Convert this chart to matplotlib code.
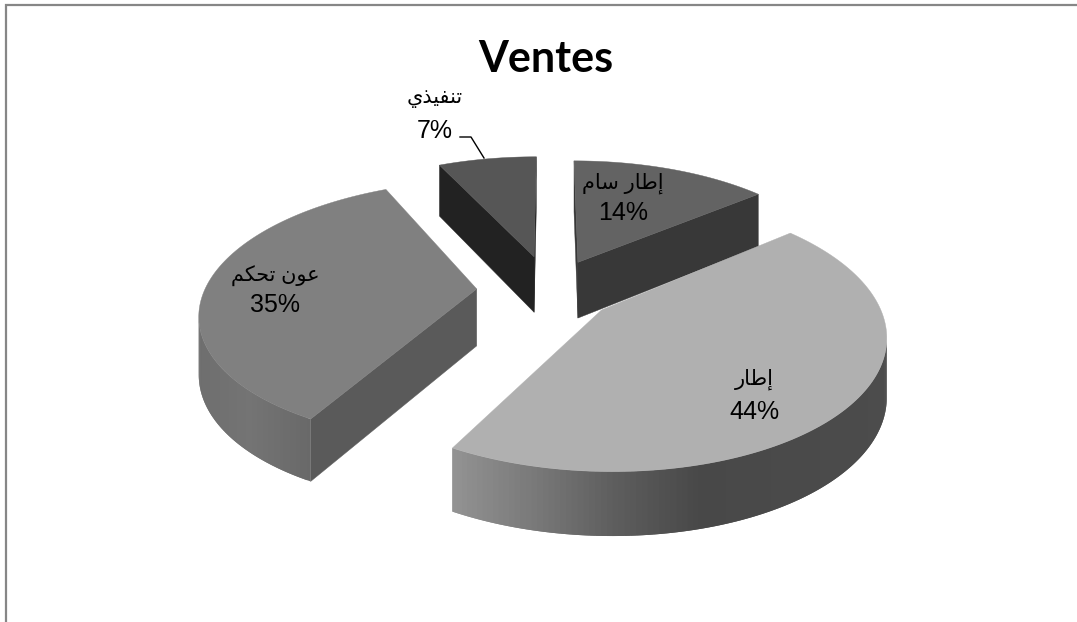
import numpy as np
import matplotlib
matplotlib.use("Agg")
import matplotlib.pyplot as plt
from matplotlib.colors import to_hex

# Chart data
title = "Ventes"
categories = ["إطار سام", "إطار", "عون تحكم", "تنفيذي"]
shares = [14, 44, 35, 7]
explode = [0.25, 0.24, 0.27, 0.28]

# Colours per slice: top face, radial wall, outer wall gradient stops (x pixel, grey level)
top_grey = [0x63, 0xB0, 0x80, 0x56]
radial_grey = [0x38, 0x5C, 0x5A, 0x22]
outer_stops = [
    ([570, 760], [0x38, 0x38]),
    ([446, 540, 620, 700, 890], [0x95, 0x77, 0x5C, 0x48, 0x4C]),
    ([197, 250, 315], [0x6E, 0x74, 0x68]),
    ([430, 540], [0x22, 0x22]),
]
label_pos = [(623, 183, 213), (754, 379, 412), (275, 276, 305), (435, 99, 131)]

# Projection of the tilted pie onto the page, in pixels
CX, CY = 550.0, 290.0
SCALE_X, SCALE_Y = 272.0, 127.0
PERSP = 0.168
DEPTH, DEPTH_PERSP = 57.0, 0.10

# Contextual forms for the Arabic letters used here: isolated, final, initial, medial
FORMS = {
    "إ": "\uFE87\uFE88", "ا": "\uFE8D\uFE8E", "ر": "\uFEAD\uFEAE", "و": "\uFEED\uFEEE", "ذ": "\uFEAB\uFEAC",
    "ط": "\uFEC1\uFEC2\uFEC3\uFEC4", "س": "\uFEB1\uFEB2\uFEB3\uFEB4", "م": "\uFEE1\uFEE2\uFEE3\uFEE4",
    "ع": "\uFEC9\uFECA\uFECB\uFECC", "ن": "\uFEE5\uFEE6\uFEE7\uFEE8", "ت": "\uFE95\uFE96\uFE97\uFE98",
    "ح": "\uFEA1\uFEA2\uFEA3\uFEA4", "ك": "\uFED9\uFEDA\uFEDB\uFEDC", "ف": "\uFED1\uFED2\uFED3\uFED4",
    "ي": "\uFEF1\uFEF2\uFEF3\uFEF4",
}


def shape_arabic(text):
    """Join Arabic letters and lay them out left to right for the text engine."""
    out = []
    for i, ch in enumerate(text):
        if ch not in FORMS:
            out.append(ch)
            continue
        prev = text[i - 1] if i else " "
        nxt = text[i + 1] if i + 1 < len(text) else " "
        joins_prev = prev in FORMS and len(FORMS[prev]) == 4
        joins_next = nxt in FORMS and len(FORMS[ch]) == 4
        form = (1 if joins_prev else 0) if not joins_next else (3 if joins_prev else 2)
        out.append(FORMS[ch][form])
    return "".join(reversed(out))


def project(u, w):
    k = 1.0 + PERSP * w
    return CX + SCALE_X * u / k, CY - SCALE_Y * w / k


def drop(w):
    return DEPTH / (1.0 + DEPTH_PERSP * w)


def grey(level):
    v = float(level) / 255.0
    return to_hex((v, v, v))


def faces_viewer(a, b, inner, dy):
    """True when the wall hanging below edge a-b faces the viewer."""
    ex, ey = b[0] - a[0], b[1] - a[1]
    s1 = ex * (inner[1] - a[1]) - ey * (inner[0] - a[0])
    s2 = ex * dy
    return s1 * s2 < 0


fig = plt.figure(figsize=(10.77, 6.22), dpi=100)
ax = fig.add_axes([0, 0, 1, 1])
ax.set_xlim(0, 1077)
ax.set_ylim(622, 0)
ax.axis("off")

# Chart frame, open at the bottom and right where the page crops it
ax.plot([5.5, 5.5, 1077], [622, 5, 5], color="#868686", lw=1.6, solid_joinstyle="miter")

fractions = np.array(shares, dtype=float) / sum(shares)
edges = np.concatenate([[0.0], np.cumsum(fractions)]) * 2 * np.pi

# Back slices first so that nearer ones paint over them
for idx in [3, 0, 2, 1]:
    start, end = edges[idx], edges[idx + 1]
    mid = 0.5 * (start + end)
    cu, cw = explode[idx] * np.sin(mid), explode[idx] * np.cos(mid)
    theta = np.linspace(start, end, 160)
    us = cu + np.sin(theta)
    ws = cw + np.cos(theta)
    xs, ys = project(us, ws)
    tip = project(cu, cw)
    inner = (0.5 * (tip[0] + xs[80]), 0.5 * (tip[1] + ys[80]))

    # Radial walls
    for j in (0, -1):
        d_tip, d_rim = drop(cw), drop(ws[j])
        if faces_viewer(tip, (xs[j], ys[j]), inner, d_rim):
            ax.fill([tip[0], xs[j], xs[j], tip[0]],
                    [tip[1], ys[j], ys[j] + d_rim, tip[1] + d_tip],
                    facecolor=grey(radial_grey[idx]), edgecolor=grey(radial_grey[idx]), lw=0.3, zorder=2)

    # Outer wall: overlapping strips carry the shading without seams
    stop_x, stop_g = outer_stops[idx]
    last = len(theta) - 1
    for i in range(last):
        n = min(i + 2, last)
        a, b = (xs[i], ys[i]), (xs[i + 1], ys[i + 1])
        if faces_viewer(a, b, inner, drop(ws[i])):
            c = grey(np.interp(0.5 * (a[0] + b[0]), stop_x, stop_g))
            px = [xs[i], xs[i + 1], xs[n], xs[n], xs[i + 1], xs[i]]
            py = [ys[i], ys[i + 1], ys[n], ys[n] + drop(ws[n]), ys[i + 1] + drop(ws[i + 1]), ys[i] + drop(ws[i])]
            ax.fill(px, py, facecolor=c, edgecolor="none", lw=0, zorder=2)

    # Top face
    ax.fill(np.r_[tip[0], xs], np.r_[tip[1], ys],
            facecolor=grey(top_grey[idx]), edgecolor=grey(top_grey[idx]), lw=0.3, zorder=3)

    lx, ar_y, pct_y = label_pos[idx]
    ax.text(lx, ar_y, shape_arabic(categories[idx]), ha="center", va="center", fontsize=15,
            family=["Liberation Sans", "DejaVu Sans"], color="black", zorder=5)
    ax.text(lx, pct_y, f"{shares[idx]}%", ha="center", va="center", fontsize=18,
            family=["Liberation Sans", "DejaVu Sans"], color="black", zorder=5)

# Leader for the small slice
ax.plot([460, 471, 484], [137, 137, 158], color="black", lw=1.0, zorder=4)

ax.text(546, 71.5, title, ha="center", va="baseline", fontsize=31, fontweight="bold",
        family="Lato", color="black")

fig.savefig("out.png", dpi=100, facecolor="white")
